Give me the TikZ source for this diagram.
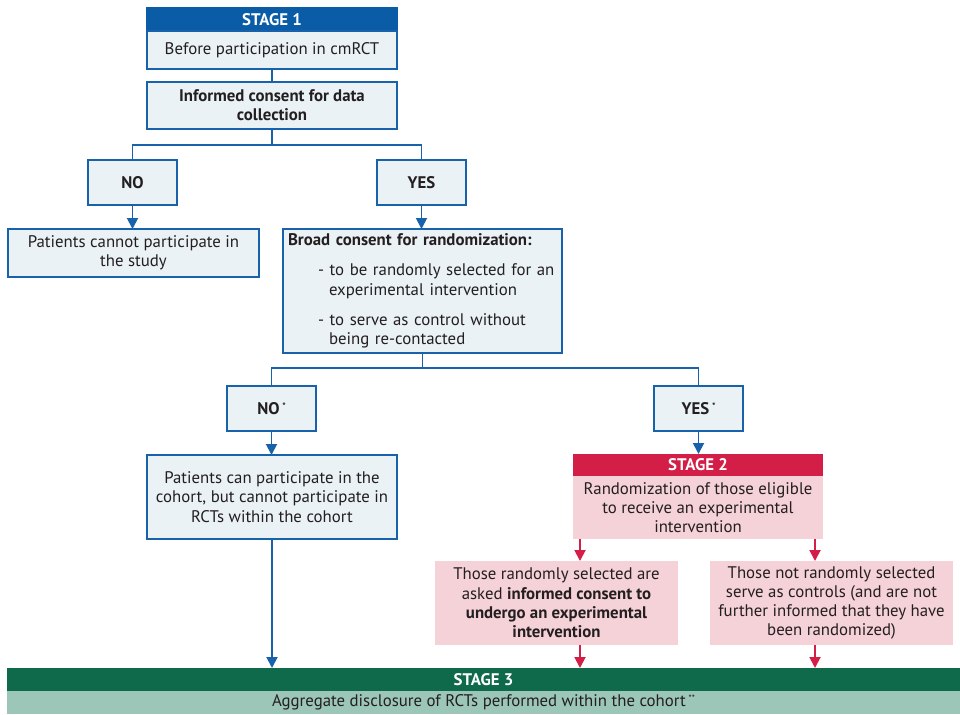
\documentclass[tikz,border=0pt]{standalone}
\usepackage{fontspec}
\setmainfont{PT Sans}
\usetikzlibrary{arrows.meta}
\definecolor{bhead}{HTML}{0B5CA6}
\definecolor{bline}{HTML}{1762AA}
\definecolor{bfill}{HTML}{EAF2F6}
\definecolor{rhead}{HTML}{D31F47}
\definecolor{rfill}{HTML}{F5D1D8}
\definecolor{ghead}{HTML}{0E6A4A}
\definecolor{gfill}{HTML}{9CC6B7}
\definecolor{txt}{HTML}{231F20}
\newcommand\myast{\,\raisebox{5pt}{\fontsize{9}{9}\selectfont *}}
\newcommand\fs{\fontsize{16.8}{19.3}\selectfont}
\begin{document}
\begin{tikzpicture}[x=1pt,y=-1pt,
  every node/.style={font=\fs, text=txt, inner sep=0pt, outer sep=0pt, anchor=north west, align=center},
  bbox/.style={draw=bline, line width=1.9pt, fill=bfill},
  bold/.style={font=\fs\bfseries},
  bhd/.style={draw=bhead, line width=1.9pt, fill=bhead, text=white, font=\fs\bfseries},
  rhd/.style={fill=rhead, text=white, font=\fs\bfseries},
  rbox/.style={fill=rfill},
  ghd/.style={fill=ghead, text=white, font=\fs\bfseries},
  gbox/.style={fill=gfill},
  bcon/.style={draw=bline, line width=1.9pt},
  barr/.style={bcon, -{Triangle[width=11pt,length=11pt]}},
  rarr/.style={draw=rhead, line width=1.9pt, -{Triangle[width=11pt,length=11pt]}},
  sz/.style n args={2}{minimum width=#1, minimum height=#2}
]
\useasboundingbox (0,0) rectangle (960,714);

% Stage 1
\node[bhd, sz={250pt}{23pt}] (s1h) at (147,8) {STAGE 1};
\node[bbox, sz={250pt}{38pt}] (s1b) at (147,31) {Before participation in cmRCT};
\node[bbox, bold, sz={250pt}{47pt}] (inf) at (147,82) {Informed consent for data\\collection};
\node[bbox, bold, sz={89pt}{45pt}] (no1) at (88,160) {NO};
\node[bbox, bold, sz={89pt}{45pt}] (yes1) at (377,160) {YES};
\node[bbox, sz={251pt}{48pt}] (pcn) at (8,229) {Patients cannot participate in\\the study};
\node[bbox, sz={279pt}{124pt}, align=left, text width=269pt, inner xsep=5pt] (broad) at (283,229)
  {\textbf{Broad consent for randomization:}\\[11pt]
   \hspace*{30pt}- to be randomly selected for an\\
   \hspace*{41pt}experimental intervention\\[11pt]
   \hspace*{30pt}- to serve as control without\\
   \hspace*{41pt}being re-contacted};
\node[bbox, bold, sz={89pt}{45pt}] (no2) at (227,386) {NO\myast};
\node[bbox, bold, sz={89pt}{45pt}] (yes2) at (654,386) {YES\myast};
\node[bbox, sz={250pt}{84pt}] (pcan) at (147,455) {Patients can participate in the\\cohort, but cannot participate in\\RCTs within the cohort};

% Stage 2
\node[rhd, sz={250pt}{22pt}] (s2h) at (573,454) {STAGE 2};
\node[rbox, sz={250pt}{63pt}] (s2b) at (573,476) {Randomization of those eligible\\to receive an experimental\\intervention};
\node[rbox, sz={243pt}{84pt}] (rsel) at (435,561) {Those randomly selected are\\asked \textbf{informed consent to}\\\textbf{undergo an experimental}\\\textbf{intervention}};
\node[rbox, sz={243pt}{84pt}] (rnot) at (710,561) {Those not randomly selected\\serve as controls (and are not\\further informed that they have\\been randomized)};

% Stage 3
\node[ghd, sz={953pt}{23pt}] (s3h) at (7,668) {STAGE 3};
\node[gbox, sz={953pt}{23pt}] (s3b) at (7,691) {Aggregate disclosure of RCTs performed within the cohort\myast\!\myast};

% connectors
\draw[bcon] (s1b.south) -- (inf.north);
\draw[bcon] (inf.south) -- ++(0,16) coordinate (j1) -| (no1.north);
\draw[bcon] (j1) -| (yes1.north);
\draw[barr] (no1.south) -- (no1.south |- pcn.north);
\draw[barr] (yes1.south) -- (yes1.south |- broad.north);
\draw[bcon] (broad.south) -- ++(0,15) coordinate (j2) -| (no2.north);
\draw[bcon] (j2) -| (yes2.north);
\draw[barr] (no2.south) -- (no2.south |- pcan.north);
\draw[barr] (yes2.south) -- (yes2.south |- s2h.north);
\draw[barr] (pcan.south) -- (pcan.south |- s3h.north);
\coordinate (ra) at ([xshift=7pt]s2b.south west);
\coordinate (rb) at ([xshift=-8pt]s2b.south east);
\draw[rarr] (ra) -- (ra |- rsel.north);
\draw[rarr] (rb) -- (rb |- rnot.north);
\draw[rarr] (ra |- rsel.south) -- (ra |- s3h.north);
\draw[rarr] (rb |- rnot.south) -- (rb |- s3h.north);
\end{tikzpicture}
\end{document}
